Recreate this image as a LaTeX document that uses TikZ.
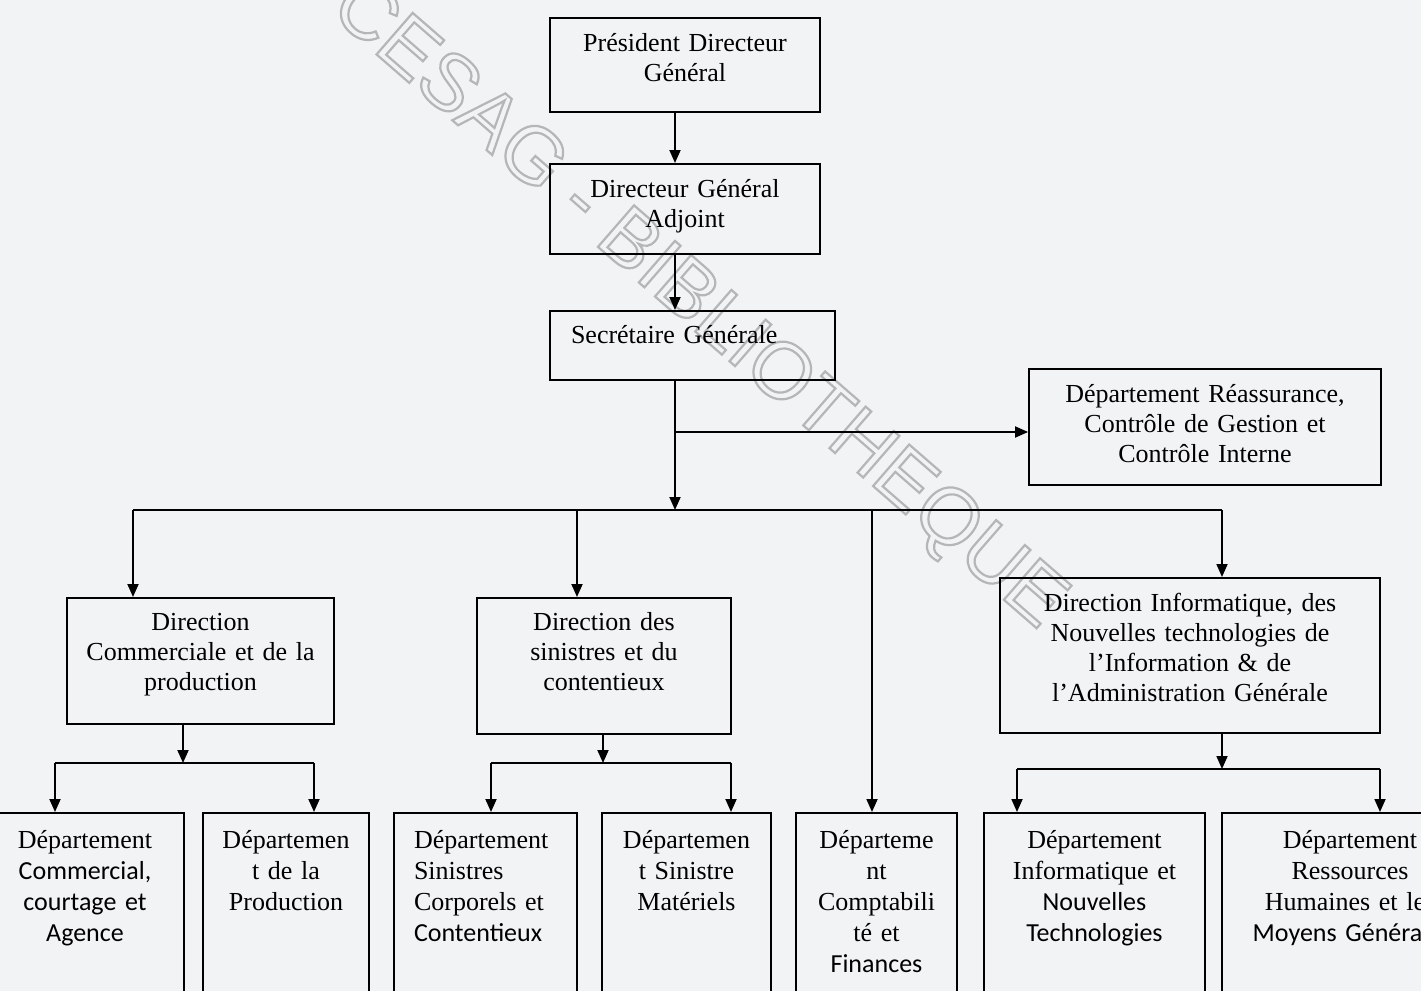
\documentclass[tikz,border=0pt]{standalone}
\usepackage{fontspec}
\setmainfont{Liberation Serif}
\newfontfamily\calibri{Carlito}
\newfontfamily\wmfont{Liberation Sans}
\usepackage{tikz}
\usetikzlibrary{arrows.meta, positioning, calc}
\definecolor{paper}{HTML}{F1F3F5}
\definecolor{wmgray}{HTML}{B4B6B8}
\newcommand{\cb}[1]{{\calibri #1}}

\begin{document}
\begin{tikzpicture}[
  x=0.5pt, y=-0.5pt,
  every node/.style={font=\fontsize{13}{15}\selectfont},
  box/.style={draw, line width=0.9pt, inner sep=0pt, align=center, anchor=north},
  dept/.style={box, text height=18pt, text depth=100pt,
               font=\fontsize{13}{15.5}\selectfont},
  arr/.style={-{Triangle[length=6.5pt,width=5.5pt]}, line width=0.9pt},
  wire/.style={line width=0.9pt},
  wmark/.style={font=\wmfont\fontsize{40}{40}\selectfont, text=wmgray,
                rotate=-41, inner sep=0pt}
]
%% paper
\clip (0,0) rectangle (1421,991);
\fill[paper] (0,0) rectangle (1421,991);

%% watermark
\node[wmark] (wm) at (697,306)
  {\special{pdf:literal direct 1 Tr 1.1 w}CESAG - BIBLIOTHEQUE\special{pdf:literal direct 0 Tr}};

%% top of the chart
\node[box, text width=135pt, text height=17pt, text depth=30pt] (pdg) at (685,17)
  {Président Directeur\\Général};
\node[box, text width=135pt, text height=17pt, text depth=28pt] (dga) at (685,163)
  {Directeur Général\\Adjoint};
\node[box, align=left, inner xsep=10.5pt, text width=121.5pt,
      text height=16.5pt, text depth=18pt] (sg) at (692.5,310)
  {Secrétaire Générale};
\node[box, text width=176pt, text height=17pt, text depth=41pt] (reas) at (1205,368)
  {Département Réassurance,\\Contrôle de Gestion et\\Contrôle Interne};

%% directions
\node[box, text width=133.5pt, text height=16.5pt, text depth=46.5pt] (dcom) at (200.5,597)
  {Direction\\Commerciale et de la\\production};
\node[box, text width=127pt, text height=16.5pt, text depth=51.5pt] (dsin) at (604,597)
  {Direction des\\sinistres et du\\contentieux};
\node[box, text width=190pt, text height=17pt, text depth=60.5pt] (dinf) at (1190,577)
  {Direction Informatique, des\\Nouvelles technologies de\\l’Information \& de\\l’Administration Générale};

%% departments
\node[dept, text width=99pt] (dcc) at (85,812)
  {Département\\\cb{Commercial,}\\\cb{courtage et}\\\cb{Agence}};
\node[dept, text width=83pt] (dprod) at (286,812)
  {Départemen\\t de la\\Production};
\node[dept, align=left, inner xsep=10pt, text width=71.5pt] (dsc) at (485.5,812)
  {Département\\Sinistres\\Corporels et\\\cb{Contentieux}};
\node[dept, text width=84.5pt] (dsm) at (686.5,812)
  {Départemen\\t Sinistre\\Matériels};
\node[dept, text width=80.5pt] (dcpt) at (876.5,812)
  {Départeme\\nt\\Comptabili\\té et\\\cb{Finances}};
\node[dept, text width=110.5pt] (dint) at (1094.5,812)
  {Département\\Informatique et\\\cb{Nouvelles}\\\cb{Technologies}};
\node[dept, text width=128pt] (drh) at (1350,812)
  {Département\\Ressources\\Humaines et les\\\cb{Moyens Généraux}};

%% trunk
\coordinate (split) at (675,432);
\coordinate (hub)   at (675,510);
\draw[arr] (pdg.south -| split) -- (dga.north -| split);
\draw[arr] (dga.south -| split) -- (sg.north -| split);
\draw[arr] (sg.south -| split) -- (hub);
\draw[arr] (split) -- (split -| reas.west);

%% main bus
\coordinate (tapA) at (133,510);
\coordinate (tapB) at (577,510);
\coordinate (tapC) at (872,510);
\coordinate (tapD) at (1222,510);
\draw[wire] (tapA) -- (tapD);
\foreach \t/\n in {tapA/dcom,tapB/dsin,tapC/dcpt,tapD/dinf}
  \draw[arr] (\t) -- (\t |- \n.north);

%% sub buses
\coordinate (jc)  at (183,763);
\coordinate (jcL) at (55,763);
\coordinate (jcR) at (314,763);
\coordinate (js)  at (603,763);
\coordinate (jsL) at (491,763);
\coordinate (jsR) at (731,763);
\coordinate (ji)  at (1222,769);
\coordinate (jiL) at (1017,769);
\coordinate (jiR) at (1380,769);
\draw[arr] (dcom.south -| jc) -- (jc);
\draw[arr] (dsin.south -| js) -- (js);
\draw[arr] (dinf.south -| ji) -- (ji);
\draw[wire] (jcL) -- (jcR);
\draw[wire] (jsL) -- (jsR);
\draw[wire] (jiL) -- (jiR);
\foreach \t/\n in {jcL/dcc,jcR/dprod,jsL/dsc,jsR/dsm,jiL/dint,jiR/drh}
  \draw[arr] (\t) -- (\t |- \n.north);
\end{tikzpicture}
\end{document}
